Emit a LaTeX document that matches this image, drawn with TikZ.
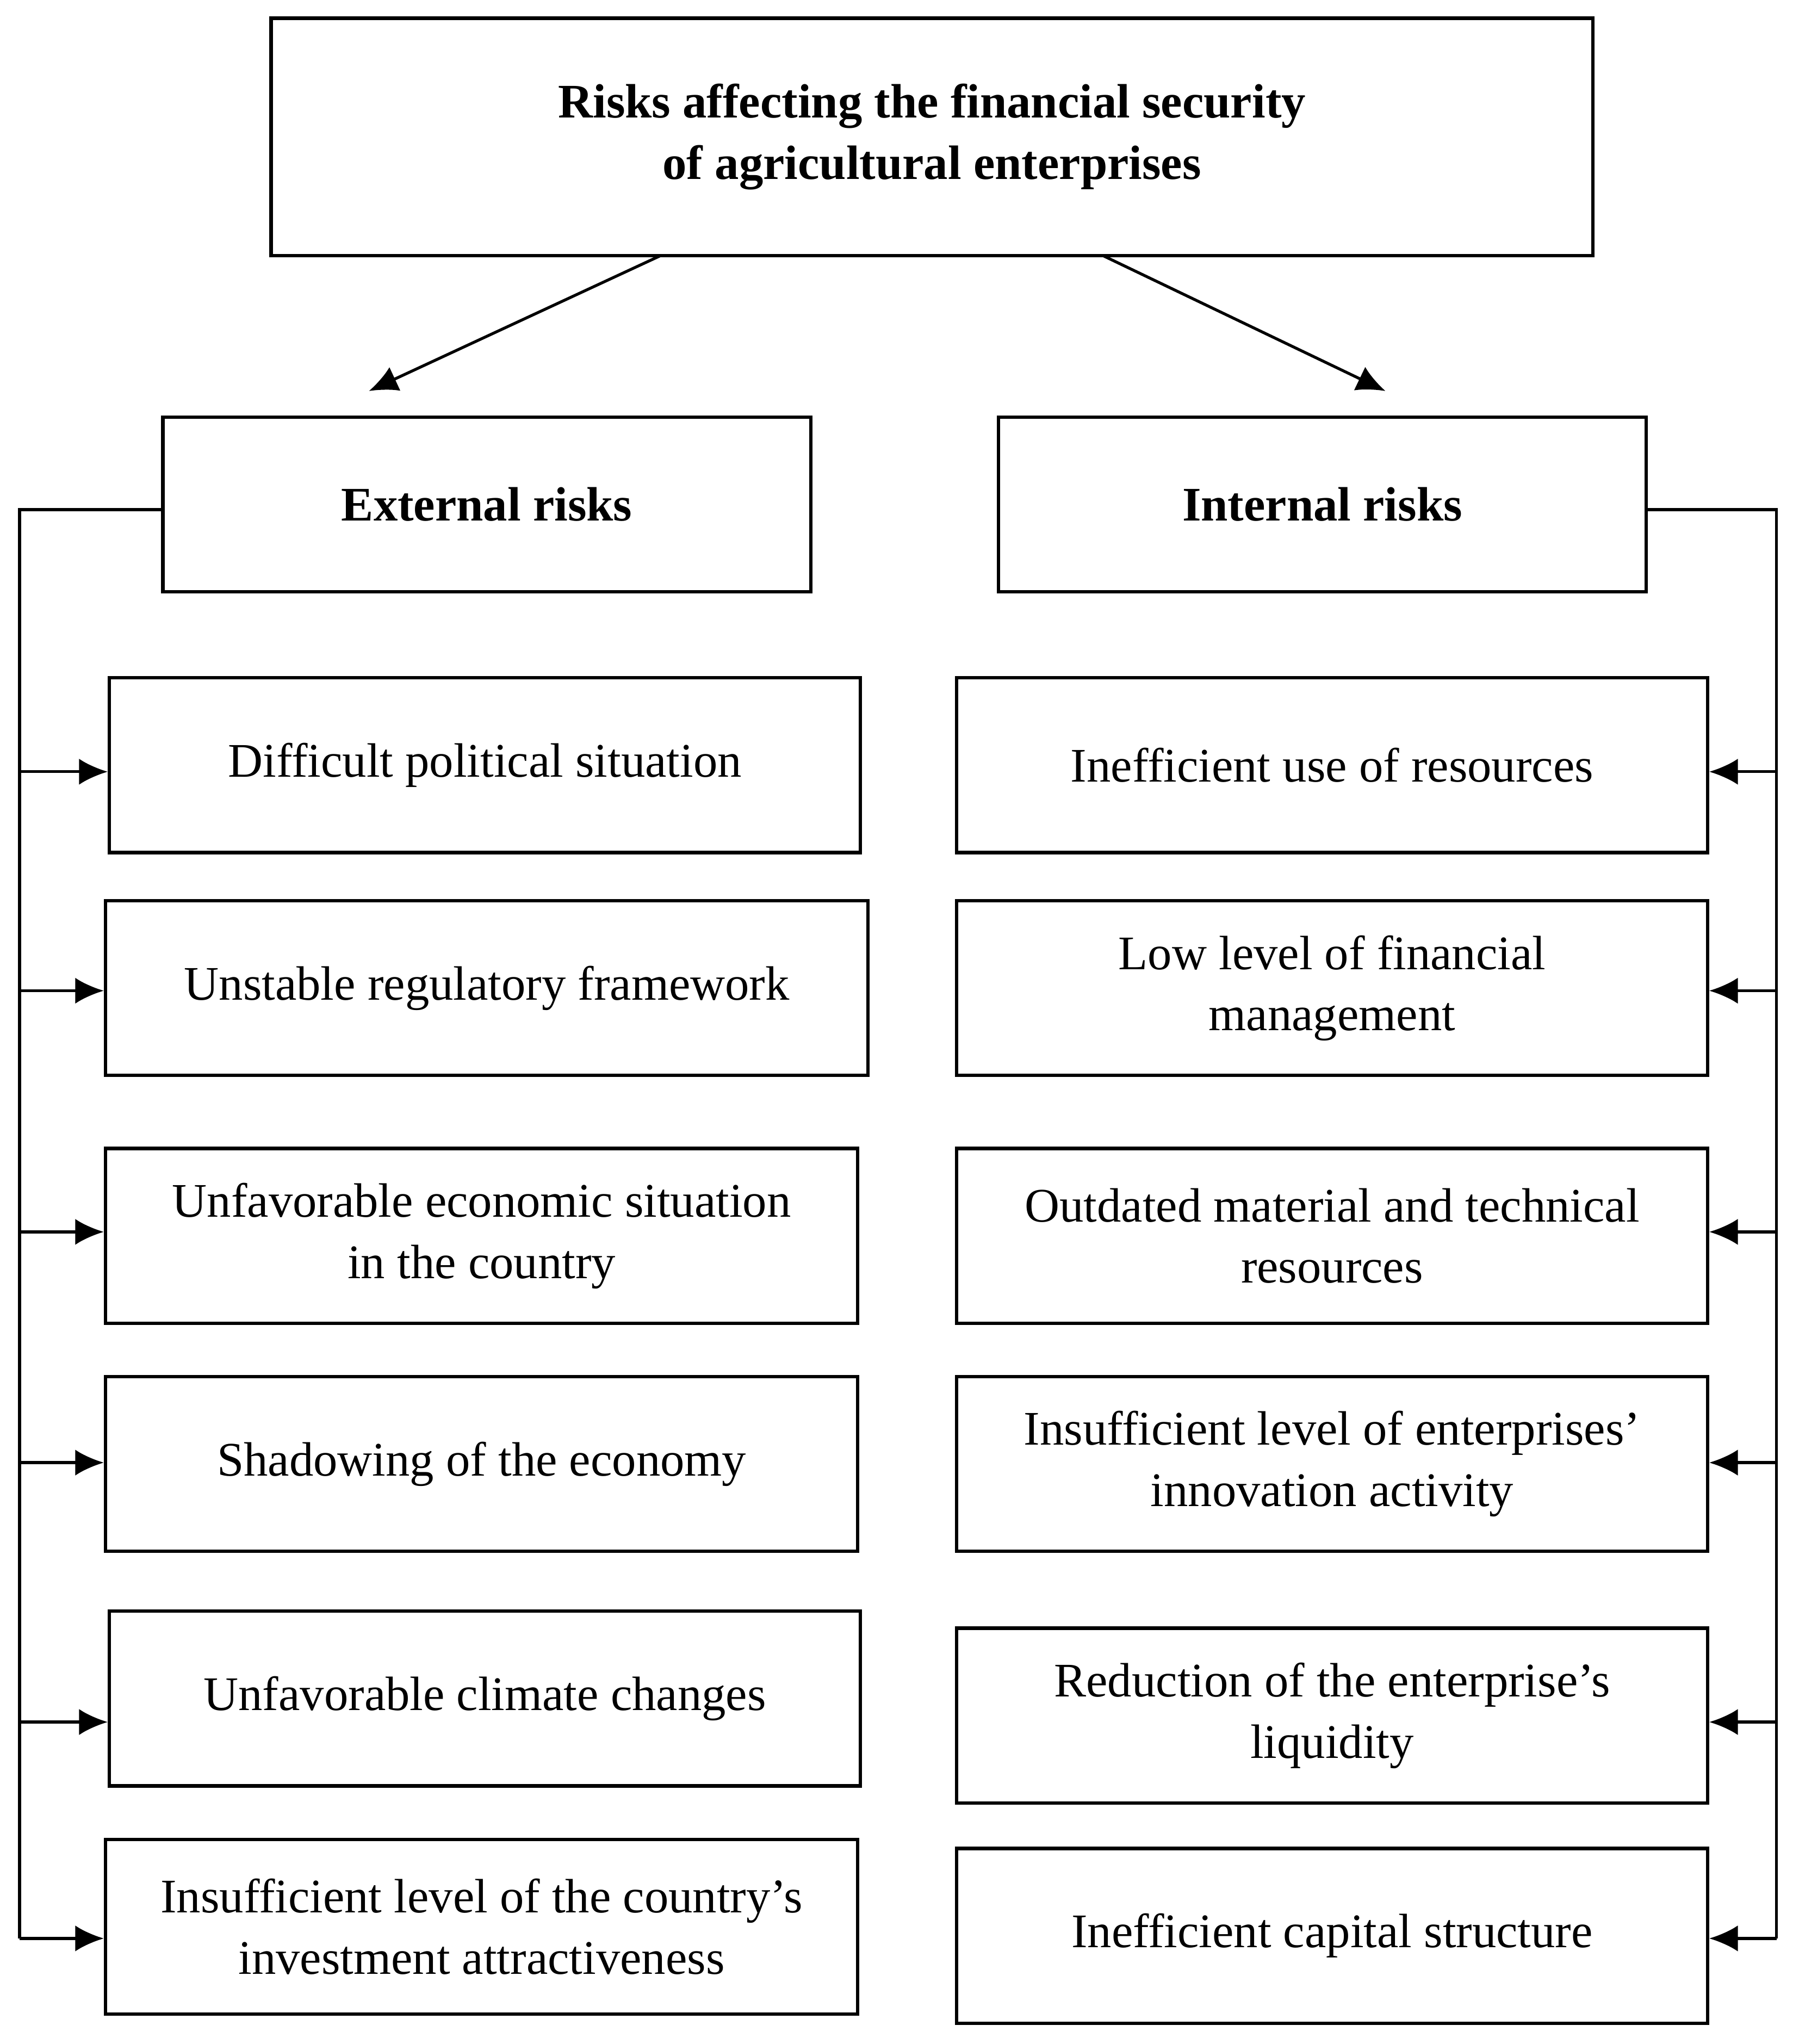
\documentclass[tikz,border=0pt]{standalone}
\usepackage{fontspec}
\setmainfont{Liberation Serif}
\usetikzlibrary{arrows.meta}
\begin{document}
\begin{tikzpicture}[x=0.5pt,y=-0.5pt,
 bx/.style={draw,line width=1.3pt,inner sep=0pt,align=center,font=\fontsize{18.5}{23.5}\selectfont},
 ar/.style={line width=1.1pt,-{Latex[length=11pt,width=10pt]}},
 ln/.style={line width=1.1pt}]
\useasboundingbox (0,0) rectangle (1380,1568);
\newcommand\bxat[6]{\node[bx,minimum width={(#3-#2)*0.5pt},minimum height={(#5-#4)*0.5pt}] (#1) at ({(#2+#3)/2},{(#4+#5)/2}) {#6};}
\bxat{top}{208}{1222}{14}{196}{\textbf{Risks affecting the financial security}\\\textbf{of agricultural enterprises}}
\bxat{ext}{125}{622}{320}{454}{\textbf{External risks}}
\bxat{int}{766}{1263}{320}{454}{\textbf{Internal risks}}
\bxat{l1}{84}{660}{520}{654}{Difficult political situation}
\bxat{l2}{81}{666}{691}{825}{Unstable regulatory framework}
\bxat{l3}{81}{658}{881}{1015}{Unfavorable economic situation\\in the country}
\bxat{l4}{81}{658}{1056}{1190}{Shadowing of the economy}
\bxat{l5}{84}{660}{1236}{1370}{Unfavorable climate changes}
\bxat{l6}{81}{658}{1411}{1545}{Insufficient level of the country’s\\investment attractiveness}
\bxat{r1}{734}{1310}{520}{654}{Inefficient use of resources}
\bxat{r2}{734}{1310}{691}{825}{Low level of financial\\management}
\bxat{r3}{734}{1310}{881}{1015}{Outdated material and technical\\resources}
\bxat{r4}{734}{1310}{1056}{1190}{Insufficient level of enterprises’\\innovation activity}
\bxat{r5}{734}{1310}{1249}{1383}{Reduction of the enterprise’s\\liquidity}
\bxat{r6}{734}{1310}{1418}{1552}{Inefficient capital structure}
\coordinate (t1) at (507,196); \coordinate (e1) at (283,300);
\coordinate (t2) at (846,196); \coordinate (e2) at (1063,300);
\draw[ar] (t1) -- (e1);
\draw[ar] (t2) -- (e2);
\coordinate (lt) at (15,391); \coordinate (lb) at (15,1487);
\coordinate (rt) at (1363,391); \coordinate (rb) at (1363,1487);
\draw[ln] (ext.west |- lt) -- (lt) -- (lb);
\draw[ln] (int.east |- rt) -- (rt) -- (rb);
\foreach \n/\y in {1/592,2/760,3/945,4/1122,5/1321,6/1487}{
 \coordinate (la\n) at (15,\y); \coordinate (ra\n) at (1363,\y);
 \draw[ar] (la\n) -- (l\n.west |- la\n);
 \draw[ar] (ra\n) -- (r\n.east |- ra\n);
}
\end{tikzpicture}
\end{document}
